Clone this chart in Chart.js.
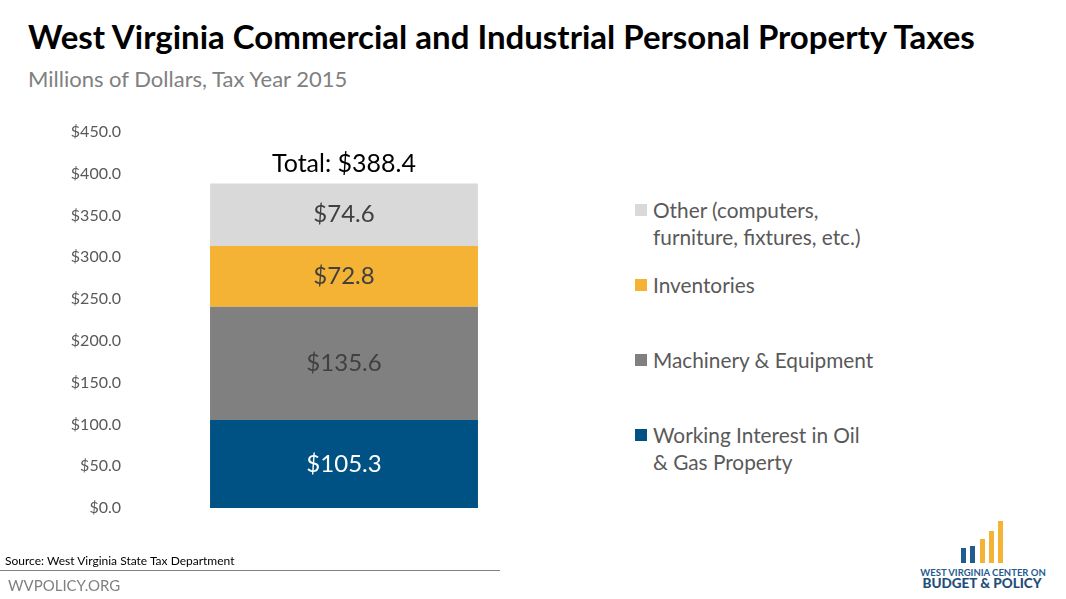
<!DOCTYPE html>
<html>
<head>
<meta charset="utf-8">
<script src="https://cdn.jsdelivr.net/npm/chart.js@4"></script>
<style>
    html, body { margin: 0; padding: 0; background: #fff; }
    body { width: 1066px; height: 599px; position: relative; overflow: hidden; font-family: Lato, "Open Sans", sans-serif; }
    #title { position: absolute; left: 28px; top: 16px; font-size: 33px; font-weight: bold; color: #000; white-space: nowrap; }
    #subtitle { position: absolute; left: 28px; top: 65px; font-size: 22px; color: #808080; white-space: nowrap; }
    #wrap { position: absolute; left: 0; top: 0; width: 600px; height: 599px; }
    #legend { position: absolute; left: 635px; top: 0; }
    .lg { position: absolute; left: 0; width: 280px; font-size: 20.8px; color: #595959; line-height: 27px; padding-left: 18px; white-space: nowrap; }
    .lg i { position: absolute; left: 0; top: 8px; width: 12px; height: 12px; }
    #source { position: absolute; left: 5px; top: 553px; font-size: 12px; color: #000; }
    #rule { position: absolute; left: 0; top: 570px; width: 500px; height: 1px; background: #808080; }
    #site { position: absolute; left: 8px; top: 576px; font-size: 15px; color: #808080; }
</style>
</head>
<body>
<div id="title">West Virginia Commercial and Industrial Personal Property Taxes</div>
<div id="subtitle">Millions of Dollars, Tax Year 2015</div>
<div id="wrap"><canvas id="chart" width="600" height="599"></canvas></div>
<div id="legend"></div>
<div id="source">Source: West Virginia State Tax Department</div>
<div id="rule"></div>
<div id="site">WVPOLICY.ORG</div>
<svg style="position:absolute;left:912px;top:513px" width="150" height="80">
    <rect x="49" y="35" width="5" height="15" fill="#1f5c8f"/>
    <rect x="58" y="33" width="5" height="17" fill="#1f5c8f"/>
    <rect x="68" y="26" width="5" height="24" fill="#f5b335"/>
    <rect x="77" y="18" width="5" height="32" fill="#f5b335"/>
    <rect x="86" y="8" width="5" height="42" fill="#f5b335"/>
    <text x="71" y="63" text-anchor="middle" font-family="Lato, sans-serif" font-size="9.5" font-weight="bold" fill="#1f5c8f">WEST VIRGINIA CENTER ON</text>
    <text x="70" y="75" text-anchor="middle" font-family="Lato, sans-serif" font-size="13.5" font-weight="900" fill="#1f4e79">BUDGET &amp; POLICY</text>
</svg>
<script>
const categories = ['2015'];
const seriesNames = ['Working Interest in Oil & Gas Property', 'Machinery & Equipment', 'Inventories', 'Other (computers, furniture, fixtures, etc.)'];
const oilGas = [105.3];
const machinery = [135.6];
const inventories = [72.8];
const other = [74.6];
const totals = [388.4];
const yTicks = [0, 50, 100, 150, 200, 250, 300, 350, 400, 450];

const colors = ['#005284', '#808080', '#f5b335', '#d9d9d9'];
const labelColors = ['#ffffff', '#404040', '#404040', '#404040'];

// legend, top item first
const legendLines = [
    ['Other (computers,', 'furniture, fixtures, etc.)'],
    ['Inventories'],
    ['Machinery & Equipment'],
    ['Working Interest in Oil', '& Gas Property']
];
const legendTops = [196, 271, 346, 421];
legendLines.forEach((lines, i) => {
    let d = document.createElement('div');
    d.className = 'lg';
    d.style.top = legendTops[i] + 'px';
    d.innerHTML = '<i style="background:' + colors[3 - i] + '"></i>' + lines.join('<br>').replace(/&(?!lt|gt|amp)/g, '&amp;');
    document.getElementById('legend').appendChild(d);
});

// value labels inside segments + total on top
const barLabels = {
    id: 'barLabels',
    afterDatasetsDraw(chart) {
        let ctx = chart.ctx;
        ctx.save();
        ctx.textAlign = 'center';
        ctx.textBaseline = 'middle';
        ctx.font = '24px Lato, "Open Sans", sans-serif';
        let topY = null, x = 0;
        chart.data.datasets.forEach((ds, i) => {
            let bar = chart.getDatasetMeta(i).data[0];
            let mid = (bar.y + bar.base) / 2;
            ctx.fillStyle = labelColors[i];
            ctx.fillText('$' + ds.data[0].toFixed(1), bar.x, mid);
            topY = bar.y;
            x = bar.x;
        });
        ctx.font = '25px Lato, "Open Sans", sans-serif';
        ctx.fillStyle = '#000';
        ctx.fillText('Total: $' + totals[0].toFixed(1), x, topY - 20);
        ctx.restore();
    }
};

new Chart(document.getElementById('chart'), {
    type: 'bar',
    data: {
        labels: categories,
        datasets: [
            { label: seriesNames[0], data: oilGas, backgroundColor: colors[0] },
            { label: seriesNames[1], data: machinery, backgroundColor: colors[1] },
            { label: seriesNames[2], data: inventories, backgroundColor: colors[2] },
            { label: seriesNames[3], data: other, backgroundColor: colors[3] }
        ]
    },
    options: {
        responsive: false,
        animation: false,
        layout: { padding: { top: 132, bottom: 91, left: 0, right: 42 } },
        plugins: { legend: { display: false }, tooltip: { enabled: false } },
        datasets: { bar: { barPercentage: 1, categoryPercentage: 0.626 } },
        scales: {
            x: { stacked: true, display: false },
            y: {
                stacked: true,
                min: 0,
                max: 450,
                afterFit: (scale) => { scale.width = 130; },
                afterBuildTicks: (scale) => { scale.ticks = yTicks.map(v => ({ value: v })); },
                grid: { display: false },
                border: { display: false },
                ticks: {
                    color: '#595959',
                    font: { family: 'Lato, "Open Sans", sans-serif', size: 16 },
                    padding: 1,
                    callback: (v) => '$' + Number(v).toFixed(1)
                }
            }
        }
    },
    plugins: [barLabels]
});
</script>
</body>
</html>
